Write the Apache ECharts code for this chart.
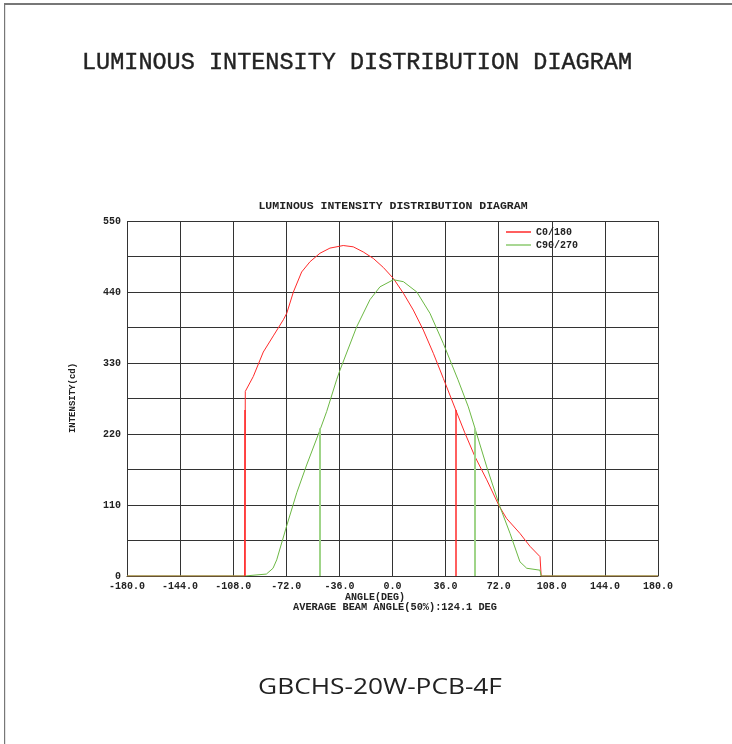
<!DOCTYPE html>
<html>
<head>
<meta charset="utf-8">
<script src="https://cdn.jsdelivr.net/npm/echarts@6/dist/echarts.min.js"></script>
<style>
html, body { margin: 0; padding: 0; background: #fff; }
#chart { width: 732px; height: 744px; }
</style>
</head>
<body>
<div id="chart"></div>
<script>
// C0/180 curve, angle (deg) -> intensity (cd)
var c0Angles = [-180, -100.2, -99.8, -94.4, -87.6, -80.8, -74.0, -71.7, -67.2, -61.6, -55.9, -49.2, -42.4, -33.4, -26.6, -19.8, -13.0, -6.2, 0.6, 7.4, 14.1, 20.9, 27.7, 34.5, 42.4, 49.0, 55.9, 63.9, 72.4, 77.4, 86.4, 93.2, 100.0, 100.8, 180];
var c0Values = [0, 0, 286, 309, 347, 372, 397, 407, 440, 471, 487, 500, 508, 512, 510, 502, 492, 478, 461, 438, 412, 381, 345, 306, 260, 222, 185, 149, 108, 89, 66, 46, 30, 0, 0];
// C90/270 curve
var c90Angles = [-180, -100.2, -99.8, -85.5, -81.0, -78.5, -71.7, -64.9, -58.2, -49.2, -44.6, -37.9, -35.6, -24.3, -15.3, -8.5, 0.6, 7.4, 16.5, 25.4, 34.5, 44.4, 51.4, 55.9, 63.9, 72.4, 79.7, 86.4, 91.0, 100.0, 100.8, 180];
var c90Values = [0, 0, 3, 3, 12, 25, 78, 129, 172, 226, 255, 304, 319, 386, 428, 448, 459, 456, 440, 407, 360, 304, 262, 229, 169, 110, 66, 22, 12, 9, 0, 0];
// 50% beam edges
var c0BeamEdges = [-100.0, 43.0];
var c0Half = 257;
var c90BeamEdges = [-49.2, 55.9];
var c90Half = 229;

var xTicks = [-180, 180, 36];
var yTicks = [0, 550, 55];
var yLabelStep = 110;

var mono = '"Liberation Mono", "Courier New", monospace';

function pairs(xs, ys) {
  return xs.map(function (x, i) { return [x, ys[i]]; });
}
function edgeLines(edges, h) {
  return edges.map(function (a) {
    return [{ coord: [a, 0] }, { coord: [a, h] }];
  });
}

var chart = echarts.init(document.getElementById('chart'));
var option = {
  animation: false,
  backgroundColor: '#fff',
  grid: { left: 127, right: 74, top: 221, bottom: 168, containLabel: false },
  legend: {
    left: 506, top: 227, orient: 'vertical', padding: 0,
    icon: 'rect', itemWidth: 25, itemHeight: 1.5, itemGap: 3,
    textStyle: { fontFamily: mono, fontWeight: 'bold', fontSize: 10, color: '#222' },
    data: ['C0/180', 'C90/270']
  },
  xAxis: {
    type: 'value', min: xTicks[0], max: xTicks[1], interval: xTicks[2],
    axisLine: { show: true, onZero: false, lineStyle: { color: '#333', width: 1 } },
    axisTick: { show: false },
    splitLine: { show: true, lineStyle: { color: '#333', width: 1 } },
    axisLabel: {
      margin: 5, fontFamily: mono, fontWeight: 'bold', fontSize: 10, color: '#222',
      formatter: function (v) { return v.toFixed(1); }
    }
  },
  yAxis: {
    type: 'value', min: yTicks[0], max: yTicks[1], interval: yTicks[2],
    axisLine: { show: true, lineStyle: { color: '#333', width: 1 } },
    axisTick: { show: false },
    splitLine: { show: true, lineStyle: { color: '#333', width: 1 } },
    axisLabel: {
      margin: 6, fontFamily: mono, fontWeight: 'bold', fontSize: 10, color: '#222',
      formatter: function (v) { return v % yLabelStep === 0 ? String(v) : ''; }
    }
  },
  series: [
    {
      name: 'C0/180', type: 'line', symbol: 'none', color: '#ff2a2a',
      lineStyle: { width: 1, color: '#ff2a2a' },
      data: pairs(c0Angles, c0Values),
      markLine: {
        silent: true, symbol: 'none', label: { show: false },
        lineStyle: { type: 'solid', color: '#ff2a2a', width: 1.5 },
        data: edgeLines(c0BeamEdges, c0Half)
      }
    },
    {
      name: 'C90/270', type: 'line', symbol: 'none', color: '#8dca70',
      lineStyle: { width: 1, color: '#6cb844' },
      data: pairs(c90Angles, c90Values),
      markLine: {
        silent: true, symbol: 'none', label: { show: false },
        lineStyle: { type: 'solid', color: '#9fd488', width: 2 },
        data: edgeLines(c90BeamEdges, c90Half)
      }
    }
  ],
  graphic: [
    { type: 'rect', shape: { x: 4, y: 3, width: 728, height: 2 }, style: { fill: '#777' } },
    { type: 'rect', shape: { x: 4, y: 3, width: 1.2, height: 741 }, style: { fill: '#777' } },
    {
      type: 'text', x: 82, y: 63,
      style: { text: 'LUMINOUS INTENSITY DISTRIBUTION DIAGRAM', fill: '#222',
        stroke: '#222', lineWidth: 0.4,
        font: 'normal 23.5px ' + mono, textAlign: 'left', textVerticalAlign: 'middle' }
    },
    {
      type: 'text', x: 393, y: 206,
      style: { text: 'LUMINOUS INTENSITY DISTRIBUTION DIAGRAM', fill: '#222',
        font: 'bold 11.5px ' + mono, textAlign: 'center', textVerticalAlign: 'middle' }
    },
    {
      type: 'text', x: 73, y: 398, rotation: Math.PI / 2,
      style: { text: 'INTENSITY(cd)', fill: '#222',
        font: 'bold 9px ' + mono, textAlign: 'center', textVerticalAlign: 'middle' }
    },
    {
      type: 'text', x: 375, y: 597,
      style: { text: 'ANGLE(DEG)', fill: '#222',
        font: 'bold 10px ' + mono, textAlign: 'center', textVerticalAlign: 'middle' }
    },
    {
      type: 'text', x: 395, y: 607,
      style: { text: 'AVERAGE BEAM ANGLE(50%):124.1 DEG', fill: '#222',
        font: 'bold 10.3px ' + mono, textAlign: 'center', textVerticalAlign: 'middle' }
    },
    {
      type: 'text', x: 380, y: 688, scaleX: 1.25,
      style: { text: 'GBCHS-20W-PCB-4F', fill: '#222',
        font: 'normal 21px "Open Sans", "Noto Sans", sans-serif', textAlign: 'center', textVerticalAlign: 'middle' }
    }
  ]
};
chart.setOption(option);
</script>
</body>
</html>
